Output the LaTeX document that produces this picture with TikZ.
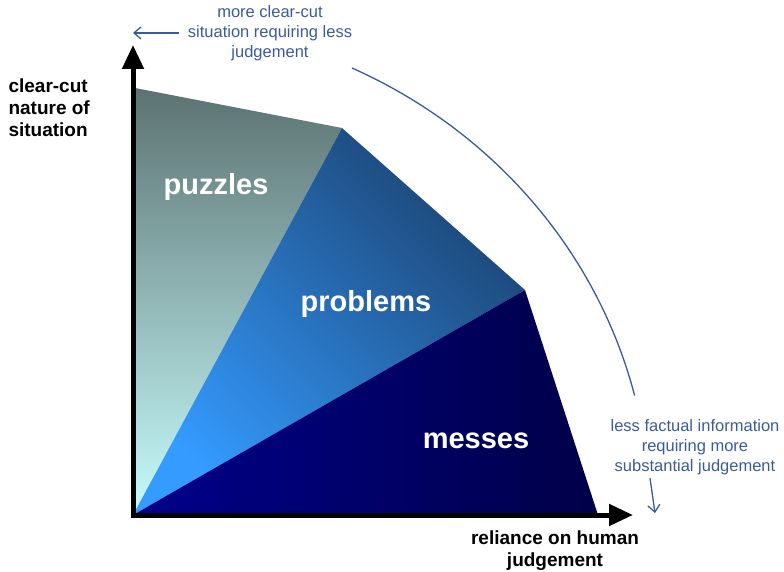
\documentclass[tikz,border=0pt]{standalone}
\usepackage{fontspec}
\setmainfont{Liberation Sans}
\usetikzlibrary{arrows.meta, positioning}

\definecolor{notecol}{RGB}{58,92,150}
\definecolor{puzTop}{RGB}{92,114,114}
\definecolor{puzBot}{RGB}{200,252,252}
\definecolor{probDark}{RGB}{28,68,115}
\definecolor{probLight}{RGB}{52,155,255}
\definecolor{messLeft}{RGB}{0,0,140}
\definecolor{messRight}{RGB}{0,0,72}

\begin{document}
\begin{tikzpicture}[
    x=1pt, y=1pt,
    axis/.style={
        line width=5pt,
        -{Triangle[length=24pt,width=21pt]}
    },
    region/.style={
        font=\fontsize{29}{32}\selectfont\bfseries,
        text=white
    },
    axislabel/.style={
        font=\fontsize{19}{22}\selectfont\bfseries
    },
    note/.style={
        font=\fontsize{16.5}{20}\selectfont,
        text=notecol,
        align=center
    },
    hint/.style={
        notecol,
        line width=1.3pt,
        -{Straight Barb[length=7pt,width=12pt]}
    }
]
  \useasboundingbox (0,0) rectangle (784,-572);

  \coordinate (O) at (133,-515);
  \coordinate (A) at (135,-88);
  \coordinate (B) at (342,-128);
  \coordinate (C) at (525,-290);
  \coordinate (D) at (598,-515);

  % the three regions
  \shade[top color=puzTop, bottom color=puzBot] (O) -- (A) -- (B) -- cycle;
  \shade[top color=probDark, bottom color=probLight, shading angle=-45] (O) -- (B) -- (C) -- cycle;
  \shade[left color=messLeft, right color=messRight] (O) -- (C) -- (D) -- cycle;

  \node[region] (puz) at (216,-187) {puzzles};
  \node[region] (prob) at (366,-304) {problems};
  \node[region] (mess) at (476,-441) {messes};

  % axes
  \coordinate (ytip) at (133,-45);
  \coordinate (xtip) at (633,-515);
  \draw[axis, shorten <=-2.5pt] (O) -- (ytip);
  \draw[axis, shorten <=-2.5pt] (O) -- (xtip);

  \node[axislabel, anchor=west, align=left] (ylab) at (5,-108) {clear-cut\\nature of\\situation};
  \node[axislabel, align=center] (xlab) at (555,-551) {reliance on human\\judgement};

  % notes
  \node[note] (topnote) at (270,-33) {more clear-cut\\situation requiring less\\judgement};
  \node[note] (sidenote) at (695,-447) {less factual information\\requiring more\\substantial judgement};
  \coordinate (lefttip) at (133,-33);
  \coordinate (downtip) at (655,-513);
  \draw[hint] ([xshift=-5pt]topnote.west) -- (lefttip);
  \draw[hint] ([xshift=-45pt]sidenote.south) -- (downtip);
  \draw[notecol, line width=1.3pt] (352,-68) arc[start angle=65, end angle=14, x radius=516, y radius=493];
\end{tikzpicture}
\end{document}
